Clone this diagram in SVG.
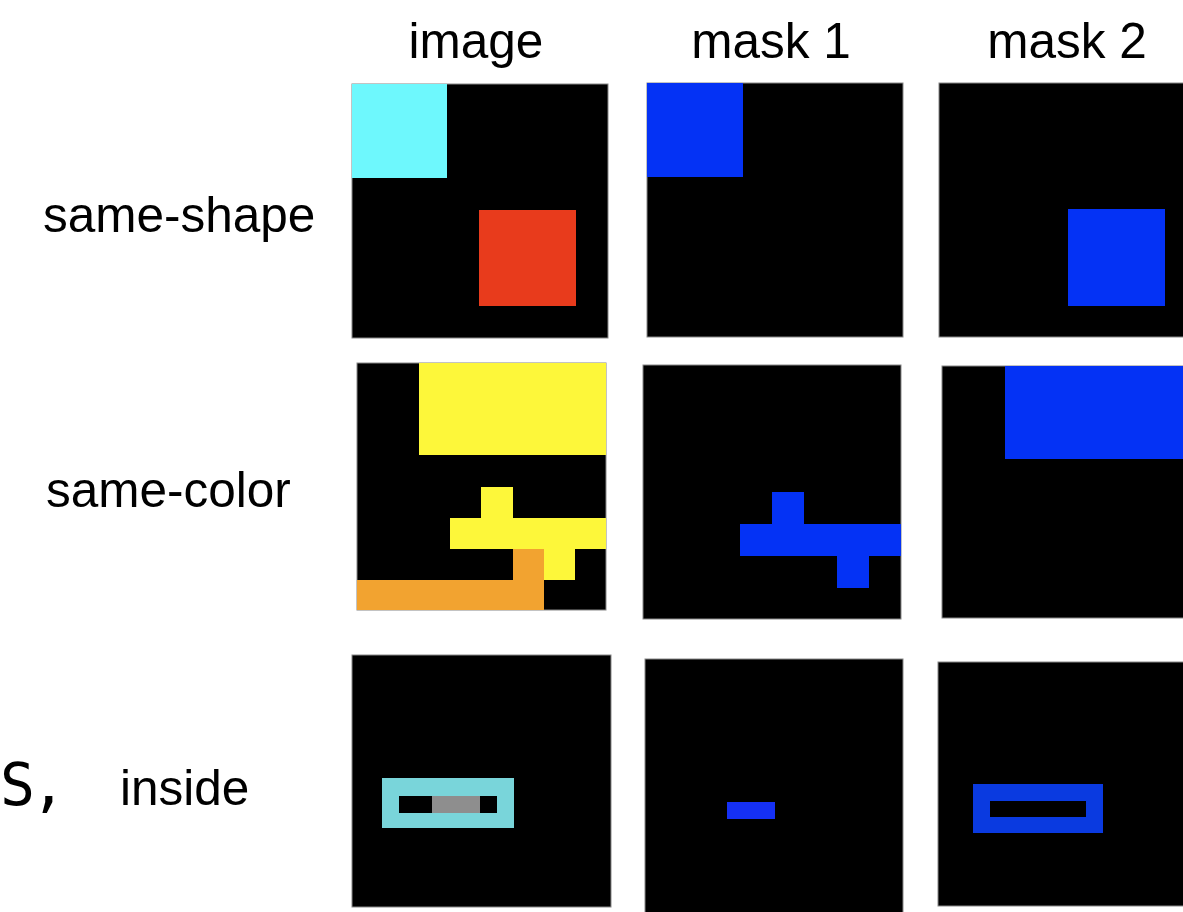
<svg xmlns="http://www.w3.org/2000/svg" width="1183" height="912" viewBox="0 0 1183 912">
<style>
.lbl{font-family:"Liberation Sans",Arial,sans-serif;font-size:49.5px;fill:#000}
.row{font-family:"Liberation Sans",Arial,sans-serif;font-size:49.5px;fill:#000}
.bg{fill:#000;stroke:#888;stroke-width:1}
.blue{fill:#0432f5}
</style>
<rect width="1183" height="912" fill="#fff"/>
<g id="headers">
<text class="lbl" x="476" y="58" text-anchor="middle">image</text>
<text class="lbl" x="771" y="58" text-anchor="middle">mask 1</text>
<text class="lbl" x="1067" y="58" text-anchor="middle">mask 2</text>
</g>
<g id="row-labels">
<text class="row" x="43" y="232">same-shape</text>
<text class="row" x="46" y="507">same-color</text>
<text class="row" x="120" y="805">inside</text>
<text x="0" y="805" letter-spacing="-4" style="font-family:'DejaVu Sans Mono',monospace;font-size:58px;fill:#000">S,</text>
</g>
<g id="r1-image">
<rect class="bg" x="352" y="84" width="256" height="254"/>
<rect x="352" y="84" width="95" height="94" fill="#6ef8fd"/>
<rect x="479" y="210" width="97" height="96" fill="#e83b1c"/>
</g>
<g id="r1-mask1">
<rect class="bg" x="647" y="83" width="256" height="254"/>
<rect class="blue" x="647" y="83" width="96" height="94"/>
</g>
<g id="r1-mask2">
<rect class="bg" x="939" y="83" width="250" height="254"/>
<rect class="blue" x="1068" y="209" width="97" height="97"/>
</g>
<g id="r2-image">
<rect class="bg" x="357" y="363" width="249" height="247"/>
<rect x="419" y="363" width="187" height="92" fill="#fdf73a"/>
<rect x="481" y="487" width="32" height="32" fill="#fdf73a"/>
<rect x="450" y="518" width="156" height="31" fill="#fdf73a"/>
<rect x="544" y="549" width="31" height="31" fill="#fdf73a"/>
<rect x="513" y="549" width="31" height="61" fill="#f2a330"/>
<rect x="357" y="580" width="187" height="30" fill="#f2a330"/>
</g>
<g id="r2-mask1">
<rect class="bg" x="643" y="365" width="258" height="254"/>
<rect class="blue" x="772" y="492" width="32" height="32"/>
<rect class="blue" x="740" y="524" width="161" height="32"/>
<rect class="blue" x="837" y="556" width="32" height="32"/>
</g>
<g id="r2-mask2">
<rect class="bg" x="942" y="366" width="250" height="252"/>
<rect class="blue" x="1005" y="366" width="180" height="93"/>
</g>
<g id="r3-image">
<rect class="bg" x="352" y="655" width="259" height="252"/>
<rect x="382" y="778" width="132" height="50" fill="#79d5da"/>
<rect x="399" y="796" width="98" height="17" fill="#000"/>
<rect x="432" y="796" width="48" height="17" fill="#8e8e8e"/>
</g>
<g id="r3-mask1">
<rect class="bg" x="645" y="659" width="258" height="260"/>
<rect x="727" y="802" width="48" height="17" fill="#1530f5"/>
</g>
<g id="r3-mask2">
<rect class="bg" x="938" y="662" width="250" height="244"/>
<rect x="973" y="784" width="130" height="49" fill="#0a3ae0"/>
<rect x="990" y="801" width="96" height="16" fill="#000"/>
</g>
</svg>
